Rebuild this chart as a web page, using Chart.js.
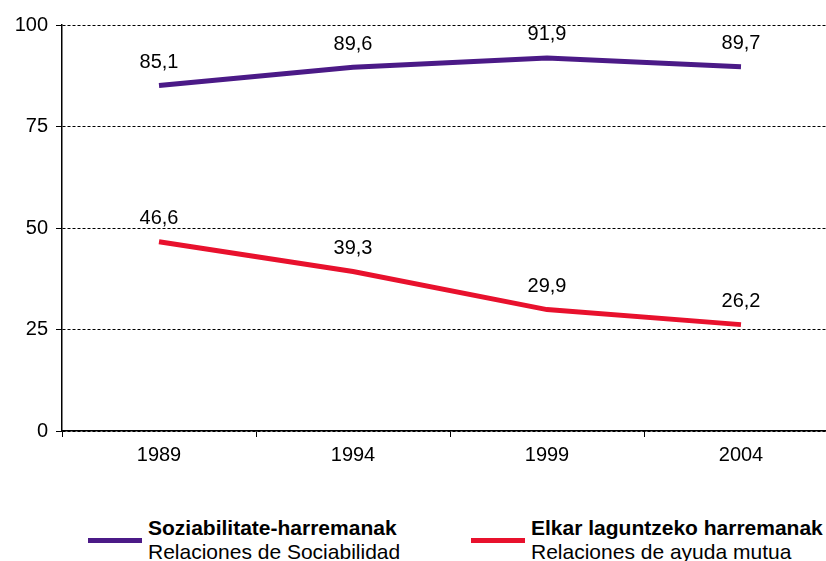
<!DOCTYPE html>
<html>
<head>
<meta charset="utf-8">
<script src="https://cdn.jsdelivr.net/npm/chart.js@4"></script>
<style>
    html, body { margin: 0; padding: 0; background: #fff; overflow: hidden; }
    #wrap { position: relative; width: 826px; height: 561px; overflow: hidden; }
    #grafico { position: absolute; left: 0; top: 0; }
    .leyenda { position: absolute; font-family: "Liberation Sans", Arial, sans-serif; font-size: 21px; color: #000; line-height: 24px; white-space: nowrap; }
    .leyenda b { display: block; }
    .linea { position: absolute; height: 5px; }
</style>
</head>
<body>
<div id="wrap">
    <canvas id="grafico" width="840" height="480"></canvas>
    <div class="linea" style="left:88px; top:538px; width:54px; background:#4b1a87"></div>
    <div class="leyenda" style="left:148px; top:516px"><b>Soziabilitate-harremanak</b>Relaciones de Sociabilidad</div>
    <div class="linea" style="left:471px; top:538px; width:54px; background:#e8112d"></div>
    <div class="leyenda" style="left:531px; top:516px"><b>Elkar laguntzeko harremanak</b>Relaciones de ayuda mutua</div>
</div>
<script>
const anios = ['1989', '1994', '1999', '2004']
const sociabilidad = [85.1, 89.6, 91.9, 89.7]
const ayudaMutua = [46.6, 39.3, 29.9, 26.2]
const ticksY = [0, 25, 50, 75, 100]

const fuente = { family: '"Liberation Sans", Arial, sans-serif', size: 20 }

// etiquetas de valor encima de cada punto
const etiquetas = {
    id: 'etiquetas',
    afterDatasetsDraw(chart) {
        const ctx = chart.ctx
        ctx.save()
        ctx.font = `20px ${fuente.family}`
        ctx.fillStyle = '#000'
        ctx.textAlign = 'center'
        ctx.textBaseline = 'middle'
        chart.data.datasets.forEach((ds, i) => {
            chart.getDatasetMeta(i).data.forEach((p, j) => {
                ctx.fillText(ds.data[j].toFixed(1).replace('.', ','), p.x, p.y - 23)
            })
        })
        ctx.restore()
    }
}

new Chart(document.getElementById('grafico'), {
    type: 'line',
    data: {
        labels: anios,
        datasets: [{
            label: 'Soziabilitate-harremanak',
            data: sociabilidad,
            borderColor: '#4b1a87',
            borderWidth: 5,
            pointRadius: 0,
            tension: 0
        }, {
            label: 'Elkar laguntzeko harremanak',
            data: ayudaMutua,
            borderColor: '#e8112d',
            borderWidth: 5,
            pointRadius: 0,
            tension: 0
        }]
    },
    options: {
        responsive: false,
        animation: false,
        layout: { padding: { top: 25, right: 2, left: 0, bottom: 0 } },
        plugins: { legend: { display: false }, tooltip: { enabled: false } },
        scales: {
            x: {
                offset: true,
                afterFit: s => { s.height = 49 },
                grid: { offset: true, drawOnChartArea: false, color: '#000', tickLength: 6 },
                border: { color: '#000', width: 1.5 },
                ticks: { color: '#000', font: fuente, padding: 6 }
            },
            y: {
                min: 0,
                max: 100,
                afterFit: s => { s.width = 62 },
                afterBuildTicks: s => { s.ticks = ticksY.map(v => ({ value: v })) },
                grid: {
                    color: '#000',
                    lineWidth: 1,
                    tickLength: 6,
                    tickBorderDash: [],
                    tickColor: '#000'
                },
                border: { color: '#000', width: 1.5, dash: [3, 2] },
                ticks: { color: '#000', font: fuente, padding: 8 }
            }
        }
    },
    plugins: [etiquetas]
})
</script>
</body>
</html>
